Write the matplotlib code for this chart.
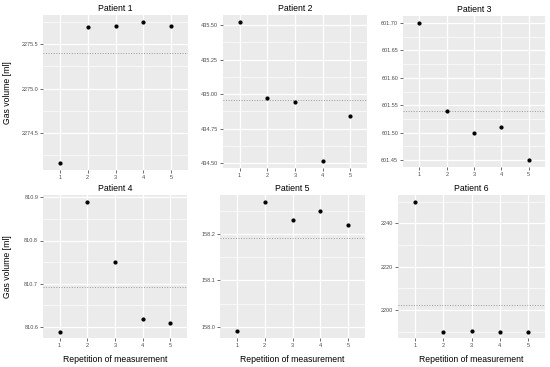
import matplotlib.pyplot as plt
import numpy as np

plt.rcParams['font.family'] = ['Liberation Sans', 'DejaVu Sans']

patients = ['Patient 1', 'Patient 2', 'Patient 3', 'Patient 4', 'Patient 5', 'Patient 6']
repetitions = [1, 2, 3, 4, 5]

p1 = [2274.16, 2275.69, 2275.71, 2275.75, 2275.70]
p2 = [435.524, 434.971, 434.942, 434.515, 434.842]
p3 = [601.70, 601.54, 601.50, 601.51, 601.45]
p4 = [810.59, 810.89, 810.75, 810.62, 810.61]
p5 = [157.99, 158.27, 158.23, 158.25, 158.22]
p6 = [2250, 2190, 2190.3, 2190, 2190]
values = [p1, p2, p3, p4, p5, p6]

y_ticks = [
    [2274.5, 2275.0, 2275.5],
    [434.50, 434.75, 435.00, 435.25, 435.50],
    [601.45, 601.50, 601.55, 601.60, 601.65, 601.70],
    [810.6, 810.7, 810.8, 810.9],
    [158.0, 158.1, 158.2],
    [2200, 2220, 2240],
]
y_fmt = ['{:.1f}', '{:.2f}', '{:.2f}', '{:.1f}', '{:.1f}', '{:.0f}']

W, H = 550, 367
fig = plt.figure(figsize=(5.5, 3.67), dpi=100)

# panel boxes in pixels: left, top, right, bottom
boxes = [
    (43, 15, 188, 170), (223, 15, 367, 168), (403, 16, 545, 167),
    (43, 195, 187, 338), (220, 195, 365, 338), (398, 195, 545, 338),
]

for i, (name, vals) in enumerate(zip(patients, values)):
    l, t, r, b = boxes[i]
    ax = fig.add_axes([l / W, 1 - b / H, (r - l) / W, (b - t) / H])
    ax.set_facecolor('#EBEBEB')
    for s in ax.spines.values():
        s.set_visible(False)

    ticks = y_ticks[i]
    step = ticks[1] - ticks[0]
    minor = np.arange(ticks[0] - step * 1.5, ticks[-1] + step, step)
    ax.set_yticks(ticks)
    ax.set_yticklabels([y_fmt[i].format(v) for v in ticks])
    ax.set_yticks(minor, minor=True)
    ax.set_xticks(repetitions)

    lo, hi = min(vals), max(vals)
    pad = (hi - lo) * 0.05
    ax.set_ylim(lo - pad, hi + pad)
    ax.set_xlim(0.4, 5.6)

    ax.grid(True, which='major', color='white', lw=0.9)
    ax.grid(True, which='minor', axis='y', color='white', lw=0.45)
    ax.set_axisbelow(True)
    ax.tick_params(which='major', length=2, width=0.5, color='#333333',
                   labelsize=4, labelcolor='#4D4D4D', pad=1.5)
    ax.tick_params(which='minor', length=0)

    ax.scatter(repetitions, vals, s=4, color='black', zorder=3)
    ax.axhline(np.mean(vals), color='#9A9A9A', lw=0.7, ls=':', zorder=2)

    ax.set_title(name, fontsize=6.3, pad=3)
    if i % 3 == 0:
        ax.set_ylabel('Gas volume [ml]', fontsize=6.2)
        ax.yaxis.set_label_coords(-(l - 12) / (r - l), 0.5)
    if i >= 3:
        ax.set_xlabel('Repetition of measurement', fontsize=6.2, labelpad=5)

fig.savefig('out.png', dpi=100)
